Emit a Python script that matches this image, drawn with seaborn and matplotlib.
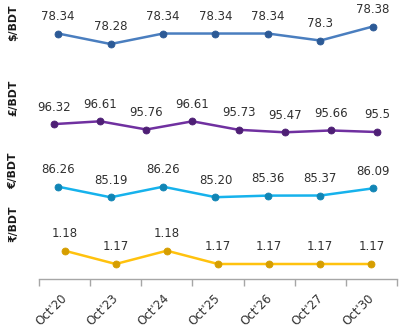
import matplotlib
matplotlib.use("Agg")
import matplotlib.pyplot as plt
import matplotlib.transforms as mtransforms
import seaborn as sns
import pandas as pd
import numpy as np

# ---- data ----
dates = ["Oct'20", "Oct'23", "Oct'24", "Oct'25", "Oct'26", "Oct'27", "Oct'30"]
usd = [78.34, 78.28, 78.34, 78.34, 78.34, 78.30, 78.38]
usd_labels = ["78.34", "78.28", "78.34", "78.34", "78.34", "78.3", "78.38"]
gbp = [96.32, 96.61, 95.76, 96.61, 95.73, 95.47, 95.66, 95.50]
gbp_labels = ["96.32", "96.61", "95.76", "96.61", "95.73", "95.47", "95.66", "95.5"]
eur = [86.26, 85.19, 86.26, 85.20, 85.36, 85.37, 86.09]
eur_labels = ["86.26", "85.19", "86.26", "85.20", "85.36", "85.37", "86.09"]
inr = [1.18, 1.17, 1.18, 1.17, 1.17, 1.17, 1.17]
inr_labels = ["1.18", "1.17", "1.18", "1.17", "1.17", "1.17", "1.17"]
names = ["$/BDT", "£/BDT", "€/BDT", "₹/BDT"]

sns.set_theme(style="white")
plt.rcParams['font.family'] = ['DejaVu Sans']

W, H = 414, 336
fig = plt.figure(figsize=(W / 100, H / 100), dpi=100)
fig.patch.set_facecolor("white")

# layout: (left, right, top, bottom) in px, ylim
panels = [
    (usd, usd_labels, (32, 399, 5, 75), (78.103, 78.503), "#4a7ebf", "#2c5a96", 23),
    (gbp, gbp_labels, (31, 400, 85, 155), (93.118, 100.372), "#7030a0", "#4e1f75", 97.5),
    (eur, eur_labels, (32, 399, 160, 225), (82.391, 88.957), "#16b2ec", "#1185b5", 171),
    (inr, inr_labels, (39, 397, 230, 279.3), (1.1585, 1.19556), "#ffc20e", "#d69e00", 224),
]

for k, (vals, labels, (l, r, t, b), ylim, lc, mc, yc) in enumerate(panels):
    ax = fig.add_axes([l / W, 1 - b / H, (r - l) / W, (b - t) / H])
    ax.patch.set_alpha(0)
    n = len(vals)
    df = pd.DataFrame({"x": np.arange(n), "v": vals})
    sns.lineplot(data=df, x="x", y="v", ax=ax, color=lc, linewidth=1.8,
                 marker="o", markersize=5, markerfacecolor=mc,
                 markeredgecolor=mc, markeredgewidth=0.6)
    for i, (v, s) in enumerate(zip(vals, labels)):
        ax.annotate(s, (i, v), xytext=(0, 12.3), textcoords="offset points",
                    ha="center", va="center", fontsize=8.5, color="#303030")
    ax.set_xlim(-0.5, n - 0.5)
    ax.set_ylim(*ylim)
    ax.set_yticks([])
    ax.set_xlabel("")
    ax.set_ylabel("")
    for sp in ["top", "right", "left", "bottom"]:
        ax.spines[sp].set_visible(False)
    if k < 3:
        ax.set_xticks([])
    else:
        ax.spines["bottom"].set_visible(True)
        ax.spines["bottom"].set_color("#a6a6a6")
        ax.spines["bottom"].set_linewidth(1.0)
        ax.set_xticks(np.arange(n))
        ax.set_xticklabels(dates, rotation=45, ha="right", rotation_mode="anchor",
                           fontsize=8.5, color="#303030")
        ax.set_xticks(np.arange(n + 1) - 0.5, minor=True)
        ax.tick_params(axis="x", which="major", length=0, pad=9)
        ax.tick_params(axis="x", which="minor", length=5, width=1.0,
                       color="#a6a6a6", direction="out", bottom=True)
        off = mtransforms.ScaledTranslation(-4 / 100, 0, fig.dpi_scale_trans)
        for lab in ax.get_xticklabels():
            lab.set_transform(lab.get_transform() + off)
    fig.text(13 / W, 1 - yc / H, names[k], rotation=90, ha="center", va="center",
             fontsize=7.8, fontweight="bold", color="#1a1a1a")

fig.savefig("out.png", dpi=100)
